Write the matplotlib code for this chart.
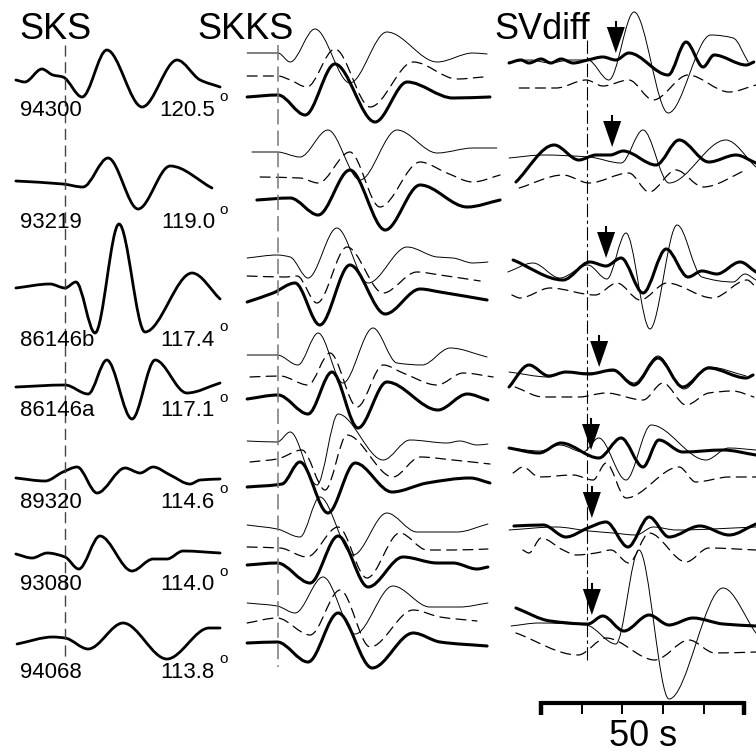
import numpy as np
import matplotlib
matplotlib.use('Agg')
import matplotlib.pyplot as plt
from matplotlib.path import Path
from matplotlib.patches import PathPatch, Polygon

plt.rcParams['font.family'] = ['Liberation Sans', 'DejaVu Sans']

# time scale of the record section: pixels per second
PX_PER_S = 4.06

# ---------------- station info ----------------
stations = ["94300", "93219", "86146b", "86146a", "89320", "93080", "94068"]
distances = ["120.5", "119.0", "117.4", "117.1", "114.6", "114.0", "113.8"]

# ---------------- SKS (time in s after SKS pick, amplitude) ----------------
SKS_T = [
    [-12.1, -9.9, -5.7, -3.0, -0.5, 4.2, 10.3, 19.0, 27.6, 33.3, 38.2],
    [-12.1, -0.5, 4.4, 10.6, 18.0, 25.9, 36.2],
    [-12.1, -3.7, 0.0, 2.7, 7.4, 13.3, 19.7, 31.3, 38.2],
    [-12.1, 0.0, 5.7, 10.3, 16.5, 22.2, 30.0, 38.2],
    [-12.1, -4.9, -0.5, 3.0, 7.9, 14.8, 18.5, 21.7, 25.9, 30.8, 33.3, 38.2],
    [-12.1, -8.1, -4.4, 0.0, 3.4, 8.6, 16.5, 21.7, 25.1, 29.1, 38.2],
    [-11.8, -3.0, 0.0, 5.7, 14.3, 25.1, 35.5, 38.2],
]
SKS_A = [
    [0, -2, 11, 5, 3, -17, 30, -27, 20, 0, -7],
    [0, -3, -6, 23, -28, 15, -7],
    [0, 4, 0, 6, -45, 64, -44, 15, -11],
    [-1, 1, -8, 26, -33, 26, -7, 3],
    [0, -3, 6, 11, -15, 10, 5, 11, 3, -6, -2, -1],
    [0, -4, 1, -3, -15, 18, -17, -5, -5, 3, 1],
    [-1, 6, 5, -6, 20, -16, 15, 15],
]

# ---------------- SKKS: thin / dashed / thick components ----------------
SKKS_THIN_T = [
    [-7.6, 0.0, 3.0, 9.1, 17.7, 26.8, 39.2, 48.0, 51.5],
    [-6.4, -0.2, 5.4, 12.3, 20.2, 29.3, 39.2, 48.0, 53.9],
    [-7.6, -0.2, 3.0, 7.4, 14.5, 22.2, 31.8, 39.2, 43.1, 48.0, 51.7],
    [-7.6, -0.2, 4.9, 9.9, 16.0, 23.4, 29.3, 35.5, 42.4, 51.5],
    [-7.6, -0.2, 3.0, 9.6, 14.8, 25.9, 32.5, 41.6, 44.8, 49.0, 51.7],
    [-7.6, -0.2, 5.4, 10.3, 18.5, 26.8, 34.2, 44.1, 51.7],
    [-7.6, -0.2, 4.2, 11.1, 19.0, 28.3, 37.4, 44.8, 51.7],
]
SKKS_THIN_A = [
    [-2, -2, -11, 22, -32, 19, -11, -2, -3],
    [2, 2, -3, 24, -26, 24, 1, 6, 6],
    [-2, 1, -1, -22, 28, -27, 9, -1, -2, -7, -6],
    [-2, -2, -12, 20, -30, 25, -10, -12, 5, -4],
    [-1, -2, 8, -45, 26, -20, 0, -3, -1, -5, -4],
    [2, -2, -10, 30, -28, 14, -5, -5, 3],
    [1, -2, -9, 27, -30, 18, -3, -3, 1],
]
SKKS_DASH_T = [
    [-7.6, 0.0, 3.0, 7.1, 14.0, 22.7, 33.3, 44.1, 50.5],
    [-4.4, 5.4, 9.9, 17.7, 25.1, 35.0, 41.6, 48.0, 54.7],
    [-7.6, 1.7, 4.7, 9.6, 17.0, 25.9, 34.2, 39.9, 49.8],
    [-6.9, 0.5, 7.4, 12.8, 19.5, 25.9, 30.8, 39.2, 45.6, 53.0],
    [-6.9, -0.2, 5.9, 11.6, 17.0, 28.3, 35.0, 43.1, 52.2],
    [-7.6, 0.5, 7.1, 14.8, 21.9, 30.0, 36.7, 43.1, 51.7],
    [-7.6, -0.2, 7.9, 15.3, 22.7, 33.3, 39.9, 49.0],
]
SKKS_DASH_A = [
    [-1, -1, -5, -12, 26, -32, 13, -4, -2],
    [1, 0, -5, 26, -29, 16, 5, -4, 3],
    [4, 3, 4, -23, 33, -13, 8, 5, -1],
    [0, 1, -8, 24, -30, 12, 4, -8, 4, 0],
    [2, 5, 14, -26, 29, -13, 7, 4, 0],
    [1, 0, -9, 21, -30, 15, -2, -2, -1],
    [-2, 3, -14, 31, -26, 11, 4, 0],
]
SKKS_THICK_T = [
    [-7.6, 0.0, 6.7, 14.0, 23.9, 31.8, 43.1, 52.2],
    [-5.2, 3.0, 9.9, 17.7, 26.4, 35.0, 46.6, 54.7],
    [-7.6, -1.2, 4.2, 10.3, 17.7, 26.4, 35.0, 39.9, 51.5],
    [-7.6, 0.0, 7.4, 13.3, 19.7, 26.8, 39.4, 46.6, 51.7],
    [-7.6, 1.0, 5.4, 12.3, 19.0, 28.1, 36.7, 47.3, 52.2],
    [-7.6, -0.2, 7.9, 14.8, 22.2, 30.8, 39.2, 43.1, 49.0, 51.7],
    [-7.6, -0.2, 7.4, 14.8, 23.2, 33.3, 39.9, 51.5],
]
SKKS_THICK_A = [
    [0, 2, -18, 33, -25, 15, -1, 0],
    [0, 2, -15, 30, -30, 15, -7, 0],
    [0, 9, 19, -23, 37, -12, 13, 10, 2],
    [0, 4, -15, 27, -29, 17, -11, 5, -1],
    [-1, 2, 24, -27, 23, -6, 3, 8, 3],
    [0, 2, -18, 29, -22, 8, 2, 2, -4, -2],
    [0, 1, -19, 30, -25, 10, 1, -3],
]

# ---------------- SVdiff: thick / thin / dashed components ----------------
SV_THICK_T = [
    [-19.2, -16.3, -14.3, -11.3, -8.9, -6.4, -3.4, 0.2, 3.9, 7.1, 10.3, 20.0, 24.4, 28.6, 31.3, 39.2, 41.1],
    [-17.5, -8.1, -2.0, 2.2, 5.7, 8.9, 17.0, 22.7, 30.0, 36.7, 41.6],
    [-18.2, -5.9, 0.7, 4.7, 8.4, 13.8, 19.5, 24.9, 28.3, 32.0, 37.7, 41.6],
    [-19.2, -14.3, -9.4, -5.2, 0.5, 6.4, 11.6, 17.5, 23.6, 30.0, 39.2, 40.9],
    [-19.2, -11.8, -6.4, 2.9, 8.4, 13.8, 17.7, 23.6, 33.5, 41.6],
    [-18.0, -10.8, -5.2, 0.2, 4.7, 10.1, 15.3, 20.2, 27.8, 35.0, 41.6],
    [-17.5, -9.1, 0.2, 3.9, 9.1, 15.3, 20.2, 26.1, 33.5, 41.6],
]
SV_THICK_A = [
    [-1, 2, -1, 3, -1, 3, -1, 2, 5, 2, 9, -13, 20, -5, 7, -3, 0],
    [-22, 15, 0, 5, 5, 9, -5, 20, -2, 5, -3],
    [5, -15, 3, -1, 7, -28, 16, -12, -6, -9, 3, -7],
    [-12, 10, -1, 3, 1, 5, -10, 17, -12, 7, -3, 0],
    [2, -3, 7, -8, 12, -17, 10, -2, 0, -5],
    [1, 2, -10, -1, 5, -20, 10, -10, 1, -8, 3],
    [14, 1, -2, 6, -9, 7, -3, 4, -2, -4],
]
SV_THIN_T = [
    [-19.2, -14.0, -9.1, -4.2, 0.2, 5.4, 11.6, 20.0, 30.5, 36.0, 39.7],
    [-19.2, -10.8, 0.5, 8.4, 13.8, 20.2, 34.2, 41.6],
    [-19.5, -13.3, -6.7, 0.2, 4.9, 9.6, 15.5, 22.2, 28.3, 36.0, 38.9, 41.6],
    [-19.2, -9.4, -5.2, 0.5, 6.4, 11.6, 17.5, 23.9, 30.0, 39.2],
    [-19.2, -11.6, -6.7, -1.0, 2.9, 9.6, 15.8, 29.3, 34.9, 41.6],
    [-19.2, -7.6, 0.5, 6.4, 12.1, 16.3, 22.0, 41.6],
    [-18.7, -11.8, -0.2, 7.1, 12.8, 20.2, 33.5, 41.6],
]
SV_THIN_A = [
    [0, 2, -1, 2, 2, -18, 50, -51, 27, 24, 0],
    [0, 3, 1, -5, 28, -25, 18, -9],
    [-4, 5, -10, 3, -11, 35, -61, 43, -9, -14, -6, -12],
    [0, -5, 0, -1, 1, -11, 16, -17, 5, -4],
    [2, -1, 5, -2, 12, -30, 25, -10, 2, 0],
    [-1, 2, -2, -4, -6, 2, -1, 2],
    [-1, 2, 0, -19, 75, -74, 37, -8],
]
SV_DASH_T = [
    [-16.7, -7.6, -0.2, 3.9, 10.3, 16.3, 24.9, 35.0, 41.6],
    [-16.7, -5.9, 0.5, 10.3, 15.3, 21.9, 28.6, 39.2],
    [-18.5, -16.5, -9.1, 2.0, 7.4, 13.1, 19.7, 31.0, 39.4, 41.6],
    [-17.7, -10.8, -2.0, 4.7, 13.8, 18.7, 24.4, 30.0, 35.9, 41.1],
    [-18.2, -15.8, -11.8, -3.4, 1.5, 4.7, 9.6, 22.7, 26.8, 35.0, 41.6],
    [-15.8, -14.3, -11.3, -5.9, -2.7, 2.2, 5.9, 10.3, 15.3, 24.4, 30.0, 41.6],
    [-17.5, -2.2, 4.7, 16.7, 25.1, 31.5, 41.6],
]
SV_DASH_A = [
    [0, 0, 8, 2, 8, -12, 13, -4, 3],
    [-10, 3, -5, 5, -14, 8, -9, 8],
    [-2, -5, 5, -2, 10, -7, 10, -5, 13, 6],
    [10, 0, 0, 4, -3, 14, -8, 4, 6, 0],
    [2, 8, -2, 0, -5, 12, -23, 8, -7, -2, -2],
    [0, -3, 12, 0, -5, -3, 0, -13, 17, -12, 2, 0],
    [7, -15, 2, -20, 0, -13, -12],
]
# predicted SVdiff arrivals (s) and the level the arrow points at
ARROW_T = [7.1, 6.2, 4.7, 3.0, 1.0, 1.2, 1.2]
ARROW_A = [9, 13, 7, 8, 0, 9, 7]

# ---------------- layout (pixels, y down) ----------------
SKS_ZERO, SKKS_ZERO, SV_ZERO = 65 / PX_PER_S, 278 / PX_PER_S, 587 / PX_PER_S
SKS_Y = [80, 181, 288, 386, 478, 554, 643]
LABEL_Y = [110, 223, 340, 411, 502, 585, 672]
SKKS_THIN_Y = [51, 154, 256, 353, 440, 527, 604]
SKKS_DASH_Y = [75, 178, 280, 377, 464, 548, 621]
SKKS_THICK_Y = [97, 200, 302, 399, 486, 565, 643]
SV_THICK_Y = [62, 160, 265, 375, 450, 527, 622]
SV_THIN_Y = [62, 158, 268, 372, 450, 529, 625]
SV_DASH_Y = [88, 178, 293, 397, 475, 550, 640]


def smooth_path(x, y):
    # piecewise cubic (shape preserving) through the knots, as Bezier segments
    x = np.asarray(x, float)
    y = np.asarray(y, float)
    h = np.diff(x)
    d = np.diff(y) / h
    m = np.zeros_like(y)
    for i in range(1, len(y) - 1):
        if d[i - 1] * d[i] > 0:
            w1 = 2 * h[i] + h[i - 1]
            w2 = h[i] + 2 * h[i - 1]
            m[i] = (w1 + w2) / (w1 / d[i - 1] + w2 / d[i])
    m[0] = d[0]
    m[-1] = d[-1]
    verts = [(x[0], y[0])]
    codes = [Path.MOVETO]
    for i in range(len(h)):
        verts += [(x[i] + h[i] / 3, y[i] + m[i] * h[i] / 3),
                  (x[i + 1] - h[i] / 3, y[i + 1] - m[i + 1] * h[i] / 3),
                  (x[i + 1], y[i + 1])]
        codes += [Path.CURVE4] * 3
    return Path(verts, codes)


def trace(ax, zero, t, a, base, **kw):
    xs = zero + np.asarray(t, float)
    ys = base - np.asarray(a, float)
    ax.add_patch(PathPatch(smooth_path(xs, ys), fill=False, color='black',
                           capstyle='round', joinstyle='round', **kw))


THICK = dict(lw=2.2)
THIN = dict(lw=0.7)
DASH = dict(lw=0.9, linestyle=(0, (8, 5)))

fig = plt.figure(figsize=(7.56, 7.56), dpi=100)
ax = fig.add_axes([0, 0, 1, 1])
ax.set_xlim(0, 756 / PX_PER_S)
ax.set_ylim(756, 0)
ax.axis('off')

# reference lines
ax.plot([SKS_ZERO] * 2, [45, 657], color='#444444', lw=1.0, ls=(0, (8, 4)))
ax.plot([SKKS_ZERO] * 2, [45, 667], color='#777777', lw=1.1, ls=(0, (10, 4)))
ax.plot([SV_ZERO] * 2, [40, 662], color='black', lw=0.8, ls=(0, (12, 3, 3, 3)))

for i in range(7):
    trace(ax, SKS_ZERO, SKS_T[i], SKS_A[i], SKS_Y[i], lw=2.0)

    trace(ax, SKKS_ZERO, SKKS_THIN_T[i], SKKS_THIN_A[i], SKKS_THIN_Y[i], **THIN)
    trace(ax, SKKS_ZERO, SKKS_DASH_T[i], SKKS_DASH_A[i], SKKS_DASH_Y[i], **DASH)
    trace(ax, SKKS_ZERO, SKKS_THICK_T[i], SKKS_THICK_A[i], SKKS_THICK_Y[i], **THICK)

    trace(ax, SV_ZERO, SV_DASH_T[i], SV_DASH_A[i], SV_DASH_Y[i], **DASH)
    trace(ax, SV_ZERO, SV_THIN_T[i], SV_THIN_A[i], SV_THIN_Y[i], **THIN)
    trace(ax, SV_ZERO, SV_THICK_T[i], SV_THICK_A[i], SV_THICK_Y[i], **THICK)

    # arrival arrow
    xa = SV_ZERO + ARROW_T[i]
    tip = SV_THICK_Y[i] - ARROW_A[i]
    half = 9 / PX_PER_S
    ax.add_patch(Polygon([(xa - half, tip - 26), (xa + half, tip - 26), (xa, tip)],
                         closed=True, color='black', lw=0))
    ax.plot([xa, xa], [tip - 31, tip - 25], color='black', lw=1.5)

    # labels
    ax.text(20 / PX_PER_S, LABEL_Y[i], stations[i], fontsize=16, va='center', ha='left')
    ax.text(215 / PX_PER_S, LABEL_Y[i], distances[i], fontsize=16, va='center', ha='right')
    ax.text(219 / PX_PER_S, LABEL_Y[i] - 13, 'o', fontsize=11, va='center', ha='left')

# panel titles
ax.text(19 / PX_PER_S, 39, 'SKS', fontsize=26, va='baseline')
ax.text(197 / PX_PER_S, 39, 'SKKS', fontsize=26, va='baseline')
ax.text(494 / PX_PER_S, 39, 'SVdiff', fontsize=26, va='baseline')

# 50 s scale bar with 10 s ticks
bar_t0 = SV_ZERO - 11.3
ax.plot([bar_t0, bar_t0 + 50], [703, 703], color='black', lw=3, solid_capstyle='butt')
for k in range(6):
    xk = bar_t0 + 10 * k
    if k in (0, 5):
        ax.plot([xk, xk], [701, 715], color='black', lw=3.2, solid_capstyle='butt')
    else:
        ax.plot([xk, xk], [703, 714], color='black', lw=1.4, solid_capstyle='butt')
ax.text(bar_t0 + 25, 736, '50 s', fontsize=26, ha='center', va='center')

fig.savefig('out.png', dpi=100)
